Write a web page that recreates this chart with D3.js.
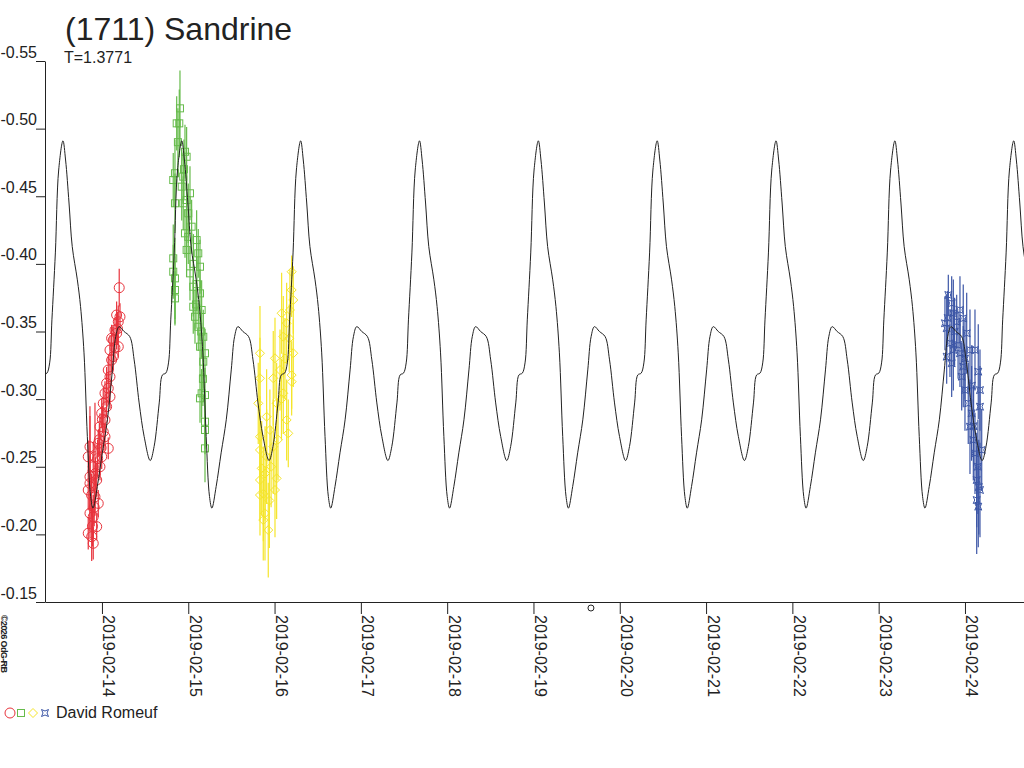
<!doctype html>
<html lang="en">
<head>
<meta charset="utf-8"/>
<title>(1711) Sandrine</title>
<script src="https://d3js.org/d3.v7.min.js"></script>
<style>
  body { margin: 0; background: #fff; }
  text { font-family: "Liberation Sans", Arial, sans-serif; fill: #222; }
</style>
</head>
<body>
<svg id="chart"></svg>
<script>
const title = "(1711) Sandrine";
const periodLabel = "T=1.3771";
const observer = "David Romeuf";
const credit = "\u00a92026 OdG-RB";

// time in days from 2019-02-14 00:00 UTC
const day0 = Date.UTC(2019, 1, 14);
const timeRange = [-0.66, 10.684];
const magRange = [-0.55, -0.15];
const magTicks = [-0.55, -0.50, -0.45, -0.40, -0.35, -0.30, -0.25, -0.20, -0.15];

// model light curve, one cycle (phase 0 = maximum)
const period = 1.3771;
const peakEpoch = 2.3024;
const originMark = 5.666;
const modelPhase = [0, 0.022, 0.051, 0.078, 0.121, 0.148, 0.177, 0.205, 0.233, 0.253,
  0.289, 0.331, 0.374, 0.416, 0.444, 0.472, 0.514, 0.562, 0.599, 0.641,
  0.683, 0.734, 0.767, 0.810, 0.837, 0.865, 0.888, 0.907, 0.936, 0.964];
const modelMag = [-0.491, -0.4768, -0.4450, -0.4128, -0.3882, -0.3684, -0.3342, -0.2724, -0.2280, -0.2194,
  -0.2354, -0.2603, -0.2847, -0.3216, -0.3462, -0.3536, -0.3500, -0.3462, -0.3290, -0.2972,
  -0.2724, -0.2546, -0.2650, -0.2972, -0.3179, -0.3192, -0.3268, -0.3586, -0.4081, -0.4694];

// observations: [time, mag, error]
const redObs = [
  [0.200,-0.3824,0.014],[0.170,-0.3622,0.010],[0.189,-0.3572,0.012],[0.151,-0.3511,0.009],
  [0.131,-0.3437,0.010],[0.189,-0.3388,0.008],[0.093,-0.3363,0.011],[0.112,-0.3289,0.009],
  [0.073,-0.3215,0.010],[0.093,-0.3166,0.008],[0.054,-0.3117,0.012],[0.035,-0.3043,0.009],
  [0.015,-0.2969,0.010],[0.054,-0.2944,0.008],[-0.003,-0.2895,0.011],[0.035,-0.2846,0.009],
  [-0.023,-0.2796,0.010],[0.015,-0.2759,0.012],[0.073,-0.2636,0.008],[-0.139,-0.2648,0.030],
  [-0.159,-0.2574,0.012],[-0.043,-0.2673,0.010],[-0.081,-0.2574,0.040],[-0.101,-0.2500,0.018],
  [-0.023,-0.2500,0.010],[-0.139,-0.2426,0.045],[-0.061,-0.2402,0.012],[-0.159,-0.2328,0.015],
  [-0.081,-0.2278,0.014],[-0.043,-0.2229,0.010],[-0.139,-0.2156,0.012],[-0.101,-0.2131,0.016],
  [-0.061,-0.2057,0.010],[-0.159,-0.2008,0.012],[-0.119,-0.1983,0.018],[-0.101,-0.1934,0.012],
  [-0.139,-0.2377,0.020],[-0.003,-0.2574,0.009],[0.035,-0.2722,0.010],[0.093,-0.3018,0.009],
  [0.131,-0.3314,0.010],[0.170,-0.3487,0.012],[0.209,-0.3609,0.010],
  [0.112,-0.3450,0.010],[0.073,-0.3080,0.012],[0.005,-0.2850,0.010],[-0.030,-0.2700,0.012],
  [-0.050,-0.2560,0.014],[-0.120,-0.2290,0.016],[-0.090,-0.2200,0.014],[-0.075,-0.2450,0.012],
  [0.150,-0.3380,0.010],[0.180,-0.3520,0.012],[-0.010,-0.2640,0.010],[-0.110,-0.2060,0.015]
];
const greenObs = [
  [0.904,-0.5150,0.028],[0.896,-0.5039,0.025],[0.866,-0.5039,0.020],[0.962,-0.4829,0.020],
  [0.981,-0.4792,0.022],[0.846,-0.4670,0.025],[0.826,-0.4620,0.020],[0.924,-0.4571,0.025],
  [1.020,-0.4522,0.020],[0.981,-0.4472,0.018],[0.846,-0.4448,0.022],[0.942,-0.4448,0.020],
  [1.039,-0.4275,0.020],[0.962,-0.4226,0.018],[1.097,-0.4176,0.022],[0.981,-0.4103,0.020],
  [0.826,-0.4041,0.025],[1.116,-0.4078,0.018],[1.136,-0.3979,0.020],[0.826,-0.3942,0.020],
  [0.846,-0.3893,0.030],[1.020,-0.3930,0.020],[1.058,-0.3831,0.022],[0.846,-0.3807,0.025],
  [0.846,-0.3745,0.020],[1.136,-0.3782,0.018],[1.058,-0.3683,0.020],[1.155,-0.3659,0.022],
  [1.078,-0.3609,0.020],[1.116,-0.3535,0.018],[1.174,-0.3461,0.020],[1.136,-0.3388,0.022],
  [1.194,-0.3339,0.018],[1.174,-0.3277,0.020],[1.155,-0.3043,0.018],[1.194,-0.3030,0.020],
  [1.136,-0.3006,0.018],[1.194,-0.2833,0.020],[1.194,-0.2772,0.018],[1.194,-0.2636,0.025],
  [0.942,-0.4645,0.020],[1.000,-0.4374,0.022],
  [0.880,-0.4900,0.025],[0.950,-0.4700,0.022],[1.000,-0.4200,0.020],[1.060,-0.4000,0.022],
  [1.100,-0.3850,0.020],[1.090,-0.3700,0.018],[1.150,-0.3500,0.020],[1.170,-0.3150,0.020]
];
const yellowObs = [
  [2.198,-0.3942,0.012],[2.198,-0.3807,0.020],[2.217,-0.3733,0.025],[2.178,-0.3659,0.030],
  [2.082,-0.3635,0.030],[2.217,-0.3339,0.025],[1.831,-0.3339,0.035],[2.005,-0.3302,0.030],
  [2.198,-0.3178,0.025],[1.831,-0.3154,0.030],[1.985,-0.3154,0.035],[2.198,-0.3129,0.025],
  [2.101,-0.3043,0.030],[1.811,-0.2969,0.030],[2.140,-0.2846,0.030],[2.159,-0.2747,0.025],
  [1.831,-0.2722,0.030],[1.985,-0.2648,0.035],[1.831,-0.2624,0.030],[1.851,-0.2488,0.035],
  [2.024,-0.2414,0.030],[1.831,-0.2402,0.030],[2.005,-0.2328,0.035],[1.831,-0.2291,0.030],
  [1.889,-0.2156,0.035],[1.869,-0.2106,0.030],[1.927,-0.2032,0.035],[2.063,-0.3215,0.030],
  [2.024,-0.2969,0.030],[1.908,-0.2870,0.035],[2.101,-0.3462,0.030],[2.140,-0.3561,0.030],
  [1.946,-0.2772,0.030],[1.908,-0.2574,0.035],
  [1.870,-0.2300,0.035],[1.960,-0.2500,0.030],[2.040,-0.2700,0.030],[2.120,-0.3300,0.030],
  [2.170,-0.3450,0.025],[1.890,-0.2450,0.035],[2.080,-0.3000,0.030],[1.940,-0.2250,0.035]
];
const blueObs = [
  [9.768,-0.3561,0.020],[9.788,-0.3524,0.025],[9.807,-0.3770,0.015],[9.846,-0.3709,0.020],
  [9.865,-0.3635,0.025],[9.904,-0.3572,0.020],[9.942,-0.3659,0.025],[9.980,-0.3597,0.025],
  [9.788,-0.3314,0.020],[9.846,-0.3265,0.025],[9.826,-0.3413,0.025],[9.942,-0.3339,0.025],
  [10.020,-0.3487,0.030],[10.058,-0.3363,0.030],[10.116,-0.3363,0.030],[9.962,-0.3166,0.025],
  [10.000,-0.3067,0.030],[10.154,-0.3203,0.035],[10.174,-0.3067,0.030],[10.038,-0.2969,0.030],
  [10.174,-0.2944,0.030],[10.058,-0.2796,0.035],[10.097,-0.2698,0.030],[10.194,-0.2624,0.030],
  [10.116,-0.2599,0.030],[10.136,-0.2402,0.035],[10.174,-0.2328,0.035],[10.136,-0.2254,0.040],
  [10.154,-0.2205,0.030],[9.865,-0.3363,0.030],[9.980,-0.3240,0.030],[10.077,-0.2895,0.035],
  [9.800,-0.3600,0.020],[9.880,-0.3500,0.025],[9.920,-0.3400,0.025],[10.000,-0.3300,0.030],
  [10.080,-0.3100,0.030],[10.150,-0.2500,0.035],[10.160,-0.2350,0.035],[10.100,-0.2800,0.030]
];

const width = 1024, height = 768;
const toDate = t => new Date(day0 + t * 86400000);

const svg = d3.select("#chart").attr("width", width).attr("height", height);

const x = d3.scaleUtc().domain(timeRange.map(toDate)).range([45, 1024]);
const y = d3.scaleLinear().domain(magRange).range([61, 602]);

svg.append("clipPath").attr("id", "plot")
  .append("rect").attr("x", 45).attr("y", 0).attr("width", 979).attr("height", 602);

// axes
const yAxis = svg.append("g")
  .attr("transform", "translate(45,0)")
  .call(d3.axisLeft(y).tickValues(magTicks).tickSize(9).tickSizeOuter(0).tickFormat(d => d.toFixed(2)));
yAxis.attr("font-size", 16).attr("font-family", null);
yAxis.selectAll("path, line").attr("stroke", "#222");
yAxis.selectAll("text").attr("x", -8).attr("dy", -4);

const xAxis = svg.append("g")
  .attr("transform", "translate(0,602)")
  .call(d3.axisBottom(x).ticks(d3.utcDay.every(1)).tickFormat(d3.utcFormat("%Y-%m-%d"))
    .tickSize(12).tickSizeOuter(0));
xAxis.attr("font-size", 16).attr("font-family", null);
xAxis.selectAll("path, line").attr("stroke", "#222");
xAxis.selectAll("text")
  .attr("x", 0).attr("y", 0).attr("dy", 0)
  .attr("transform", "translate(1,13) rotate(90)")
  .style("text-anchor", "start");

// origin mark below the axis
svg.append("circle")
  .attr("cx", x(toDate(originMark))).attr("cy", 608).attr("r", 3)
  .attr("fill", "none").attr("stroke", "#222");

// marker shapes
const shapes = {
  circle: g => g.append("circle").attr("r", 5),
  square: g => g.append("rect").attr("x", -3.5).attr("y", -3.5).attr("width", 7).attr("height", 7),
  diamond: g => g.append("path").attr("d", "M0,-4.5L4.5,0L0,4.5L-4.5,0Z"),
  star: g => g.append("path").attr("d", "M-3.5,-3.5L0,-2L3.5,-3.5L2,0L3.5,3.5L0,2L-3.5,3.5L-2,0Z")
};

const series = [
  { obs: redObs, color: "#e8333c", shape: "circle" },
  { obs: greenObs, color: "#66bb4b", shape: "square" },
  { obs: yellowObs, color: "#f5e52a", shape: "diamond" },
  { obs: blueObs, color: "#3c56a6", shape: "star" }
];

const plot = svg.append("g").attr("clip-path", "url(#plot)");

series.forEach(s => {
  const g = plot.append("g");
  g.selectAll("line")
    .data(s.obs)
    .enter()
    .append("line")
    .attr("x1", d => x(toDate(d[0])))
    .attr("x2", d => x(toDate(d[0])))
    .attr("y1", d => y(d[1] - d[2]))
    .attr("y2", d => y(d[1] + d[2]))
    .attr("stroke", s.color)
    .attr("stroke-width", 1.2);
  g.selectAll("g.mk")
    .data(s.obs)
    .enter()
    .append("g")
    .attr("class", "mk")
    .attr("transform", d => `translate(${x(toDate(d[0]))},${y(d[1])})`)
    .each(function () { shapes[s.shape](d3.select(this)); })
    .selectAll("*")
    .attr("fill", "none")
    .attr("stroke", s.color)
    .attr("stroke-width", 1);
});

// model curve, the read cycle repeated with the period
const model = [];
for (let k = -3; k <= 7; k++) {
  modelPhase.forEach((p, i) => {
    model.push([peakEpoch + (k + p) * period, modelMag[i]]);
  });
}

const line = d3.line()
  .x(d => x(toDate(d[0])))
  .y(d => y(d[1]))
  .curve(d3.curveCatmullRom);

plot.append("path")
  .datum(model)
  .attr("d", line)
  .attr("fill", "none")
  .attr("stroke", "#222")
  .attr("stroke-width", 1);

// titles
svg.append("text").attr("x", 65).attr("y", 40).attr("font-size", 32).text(title);
svg.append("text").attr("x", 64).attr("y", 63).attr("font-size", 16).text(periodLabel);

// credit
svg.append("text")
  .attr("transform", "translate(1,615) rotate(90)")
  .attr("font-size", 9).attr("font-weight", "bold")
  .attr("textLength", 58)
  .text(credit);

// legend
const legend = svg.append("g").attr("transform", "translate(0,713)");
[["circle", 10], ["square", 21], ["diamond", 33], ["star", 45]].forEach(([shape, cx], i) => {
  const g = legend.append("g").attr("transform", `translate(${cx},0)`);
  shapes[shape](g);
  g.selectAll("*").attr("fill", "none").attr("stroke", series[i].color).attr("stroke-width", 1);
});
legend.append("text").attr("x", 56).attr("y", 5).attr("font-size", 16).text(observer);
</script>
</body>
</html>
